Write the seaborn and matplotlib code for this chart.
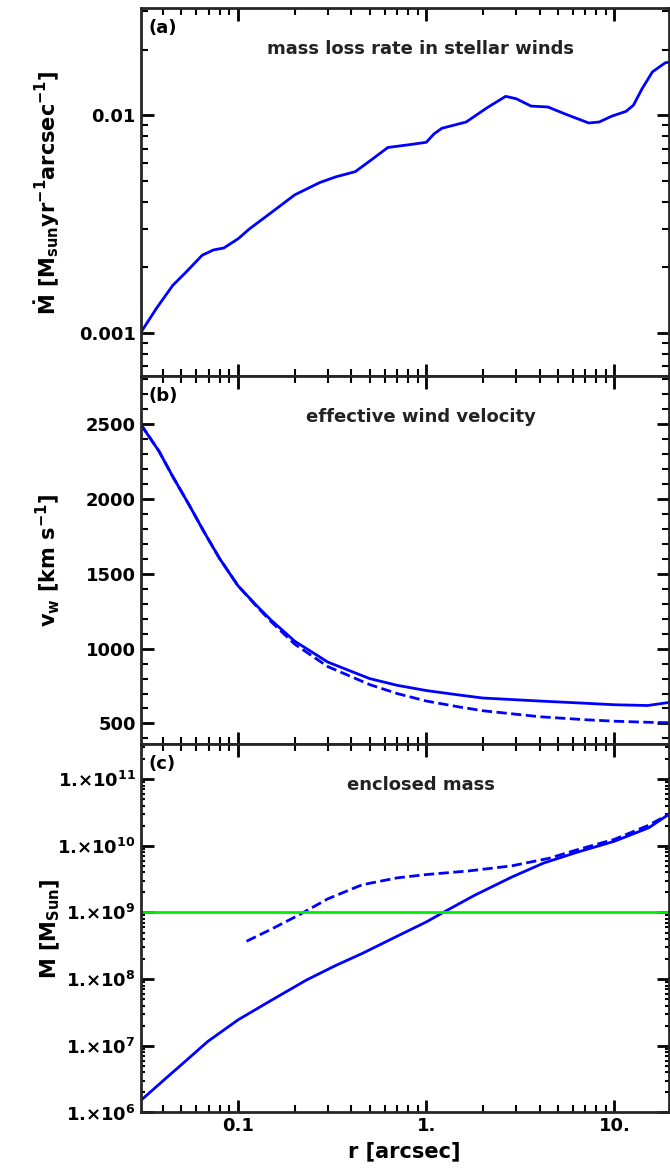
import numpy as np
import pandas as pd
import matplotlib
matplotlib.use("Agg")
import matplotlib.pyplot as plt
import matplotlib.ticker as mticker
import seaborn as sns

sns.set_style("ticks")
plt.rcParams['font.family'] = ['DejaVu Sans']
plt.rcParams['font.weight'] = 'bold'
plt.rcParams['axes.labelweight'] = 'bold'
plt.rcParams['mathtext.default'] = 'bf'
plt.rcParams['text.color'] = 'black'
plt.rcParams['axes.labelcolor'] = 'black'
plt.rcParams['xtick.color'] = 'black'
plt.rcParams['ytick.color'] = 'black'

# (a) mass loss rate
r_a = [0.0304, 0.037, 0.045, 0.053, 0.0645, 0.074, 0.084, 0.1, 0.115, 0.157, 0.2, 0.272, 0.33,
       0.42, 0.52, 0.625, 0.8, 1.0, 1.1, 1.21, 1.63, 2.1, 2.64, 3.0, 3.61, 4.43, 5.5, 7.3, 8.3,
       9.7, 11.5, 12.6, 14.0, 15.9, 18.6, 19.4]
mdot = [0.001, 0.0013, 0.00165, 0.0019, 0.00227, 0.0024, 0.00245, 0.0027, 0.003, 0.00367,
        0.0043, 0.0049, 0.0052, 0.0055, 0.0063, 0.0071, 0.0073, 0.0075, 0.0082, 0.0087,
        0.0093, 0.0108, 0.0122, 0.0119, 0.011, 0.0109, 0.0101, 0.0092, 0.0093, 0.0099,
        0.0104, 0.0111, 0.0132, 0.0158, 0.0174, 0.0175]

# (b) effective wind velocity
r_b = [0.0304, 0.038, 0.045, 0.055, 0.066, 0.08, 0.1, 0.125, 0.15, 0.2, 0.3, 0.5, 0.7, 1.0,
       1.5, 2.0, 4.0, 7.0, 10.0, 15.0, 19.4]
vw_solid = [2500, 2320, 2150, 1960, 1780, 1600, 1420, 1290, 1190, 1050, 910, 800, 755, 720,
            690, 670, 650, 635, 625, 620, 640]
vw_dash = [2500, 2320, 2150, 1960, 1780, 1600, 1420, 1285, 1180, 1030, 880, 760, 700, 650,
           610, 585, 545, 525, 515, 508, 505]

# (c) enclosed mass
r_c = [0.0308, 0.04, 0.05, 0.069, 0.1, 0.15, 0.231, 0.33, 0.456, 0.7, 1.0, 1.23, 1.8, 2.85,
       4.2, 6.24, 10.0, 15.2, 19.4]
m_solid = [1.56e6, 3.0e6, 5.2e6, 1.16e7, 2.45e7, 4.8e7, 9.7e7, 1.6e8, 2.42e8, 4.4e8, 7.2e8,
           1.0e9, 1.8e9, 3.4e9, 5.5e9, 7.9e9, 1.17e10, 1.86e10, 2.95e10]
r_c2 = [0.111, 0.15, 0.208, 0.3, 0.456, 0.7, 1.0, 1.69, 2.85, 4.5, 6.24, 10.0, 15.0, 19.4]
m_dash = [3.7e8, 5.6e8, 9.0e8, 1.6e9, 2.6e9, 3.3e9, 3.7e9, 4.2e9, 5.0e9, 6.5e9, 8.6e9,
          1.25e10, 2.0e10, 2.95e10]
m_line = 1e9

blue = '#0000ff'
fig, axes = plt.subplots(3, 1, figsize=(6.7, 11.76), sharex=True)
fig.subplots_adjust(left=0.21, right=0.998, top=0.993, bottom=0.054, hspace=0)
ax1, ax2, ax3 = axes

sns.lineplot(x=r_a, y=mdot, ax=ax1, color=blue, lw=2)
sns.lineplot(x=r_b, y=vw_solid, ax=ax2, color=blue, lw=2)
sns.lineplot(x=r_b, y=vw_dash, ax=ax2, color=blue, lw=2, linestyle='--')
sns.lineplot(x=r_c, y=m_solid, ax=ax3, color=blue, lw=2)
sns.lineplot(x=r_c2, y=m_dash, ax=ax3, color=blue, lw=2, linestyle='--')
ax3.axhline(m_line, color='#00ee00', lw=2)

for ax in axes:
    ax.set_xscale('log')
    ax.set_xlim(0.0304, 19.4)
    for s in ax.spines.values():
        s.set_linewidth(2)
    ax.tick_params(which='major', direction='in', length=9, width=2, top=True, right=True, labelsize=13)
    ax.tick_params(which='minor', direction='in', length=5, width=1.5, top=True, right=True)
    ax.xaxis.set_minor_locator(mticker.LogLocator(subs=np.arange(2, 10)))

ax3.set_xticks([0.1, 1, 10])
ax3.set_xticklabels(['0.1', '1.', '10.'])
ax3.xaxis.set_minor_formatter(mticker.NullFormatter())

ax1.set_yscale('log')
ax1.set_ylim(0.00063, 0.031)
ax1.set_yticks([0.001, 0.01])
ax1.set_yticklabels(['0.001', '0.01'])
ax1.yaxis.set_minor_locator(mticker.LogLocator(subs=np.arange(2, 10)))
ax1.yaxis.set_minor_formatter(mticker.NullFormatter())
ax1.set_ylabel(r'$\mathbf{\dot{M}}$ [M$_{\mathbf{sun}}$yr$^{\mathbf{-1}}$arcsec$^{\mathbf{-1}}$]', fontsize=15)

ax2.set_ylim(360, 2820)
ax2.set_yticks([500, 1000, 1500, 2000, 2500])
ax2.yaxis.set_minor_locator(mticker.MultipleLocator(100))
ax2.set_ylabel(r'v$_{\mathbf{w}}$ [km s$^{\mathbf{-1}}$]', fontsize=15)

ax3.set_yscale('log')
ax3.set_ylim(1e6, 10**11.52)
ax3.set_yticks([10.0**k for k in range(6, 12)])
ax3.set_yticklabels([r'1.$\times$10$^{\mathbf{%d}}$' % k for k in range(6, 12)])
ax3.yaxis.set_minor_locator(mticker.LogLocator(subs=np.arange(2, 10)))
ax3.yaxis.set_minor_formatter(mticker.NullFormatter())
ax3.tick_params(axis='y', which='minor', length=3, width=1.5)
ax3.set_ylabel(r'M [M$_{\mathbf{Sun}}$]', fontsize=15)
ax3.set_xlabel('r [arcsec]', fontsize=15)

for ax in axes:
    ax.yaxis.set_label_coords(-0.15, 0.5)

for ax, tag, title in [(ax1, '(a)', 'mass loss rate in stellar winds'),
                       (ax2, '(b)', 'effective wind velocity'),
                       (ax3, '(c)', 'enclosed mass')]:
    ax.text(0.015, 0.97, tag, transform=ax.transAxes, fontsize=13, va='top')
    ax.text(0.53, 0.89, title, transform=ax.transAxes, fontsize=13, ha='center', va='center',
            color='#222222')

fig.savefig('out.png', dpi=100)
